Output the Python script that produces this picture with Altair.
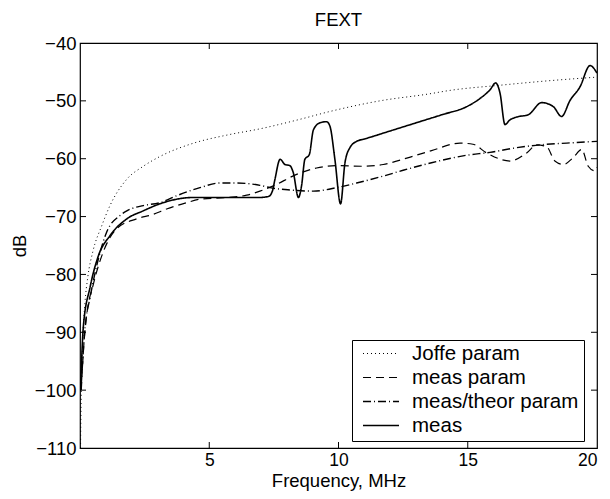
import altair as alt
import pandas as pd

FONT = "Liberation Sans"

series_names = ["Joffe param", "meas param", "meas/theor param", "meas"]

joffe_x = [0.02, 0.05, 0.1, 0.19, 0.3, 0.5, 0.84, 1.16, 1.8, 2.45, 3.1, 4.4, 5.7, 7.0, 8.5, 9.7, 11.6, 13.5, 14.3, 16.25, 18.2, 20]
joffe_y = [-110, -100, -92, -85, -80.5, -76, -71.6, -68.1, -63.6, -61.3, -59.6, -57.3, -55.9, -54.8, -53.2, -51.8, -50.0, -48.8, -48.2, -47.3, -46.5, -45.9]

measp_x = [0.05, 0.15, 0.26, 0.51, 0.9, 1.42, 2.19, 2.84, 3.35, 4.13, 4.64, 5.67, 6.45, 6.96, 7.48, 8.38, 9.15, 9.93, 10.96, 11.73, 12.64, 13.6, 14.7, 15.2, 15.73, 16.63, 17.28, 17.67, 18.05, 18.37, 18.7, 19.08, 19.41, 19.66, 19.92, 20]
measp_y = [-100, -92, -87, -81.8, -76.1, -72.1, -70.4, -69.6, -68.7, -67.6, -67.0, -66.7, -66.3, -65.6, -64.7, -62.7, -61.6, -61.2, -61.3, -61.0, -59.9, -58.6, -57.3, -57.5, -59.0, -60.4, -59.0, -57.6, -57.9, -60.4, -61.0, -59.8, -58.4, -61.3, -62.1, -61.5]

theor_x = [0.05, 0.2, 0.39, 0.7, 1.03, 1.55, 1.81, 2.45, 3.09, 3.74, 4.64, 5.42, 6.06, 6.96, 7.35, 8.12, 9.03, 9.93, 10.7, 11.73, 12.5, 13.6, 14.96, 15.86, 16.89, 17.8, 18.83, 20]
theor_y = [-99, -89, -84, -77.5, -72.7, -69.8, -69.0, -68.1, -67.6, -66.4, -65.0, -64.2, -64.2, -64.6, -65.0, -65.4, -65.6, -65.0, -64.2, -63.0, -62.0, -60.7, -59.4, -58.9, -58.1, -57.6, -57.3, -57.0]

meas_x = [0.02, 0.13, 0.39, 0.71, 1.16, 1.81, 2.45, 3.09, 3.74, 4.38, 5.5, 6.96, 7.3, 7.45, 7.54, 7.74, 7.93, 8.12, 8.25, 8.45, 8.57, 8.7, 8.87, 9.03, 9.28, 9.54, 9.67, 9.86, 10.08, 10.25, 10.44, 10.7, 11, 12, 13, 14, 14.96, 15.47, 15.86, 16.08, 16.25, 16.44, 16.63, 16.89, 17.34, 17.86, 18.31, 18.63, 18.96, 19.34, 19.73, 20]
meas_y = [-100, -89, -82.2, -76.8, -73.3, -70.4, -69.0, -67.8, -67.0, -66.7, -66.7, -66.7, -66.5, -65.5, -63.6, -60.1, -61.0, -61.2, -62.4, -66.7, -64.7, -60.1, -59.3, -55.0, -53.8, -53.6, -54.4, -60.1, -67.8, -60.7, -58.1, -57.0, -56.6, -55.2, -53.8, -52.4, -51.0, -49.6, -48.1, -46.9, -48.7, -54.1, -53.3, -52.8, -52.4, -50.3, -51.0, -52.7, -49.9, -47.6, -43.9, -45.2]

x_ticks = [5, 10, 15, 20]
x_inner_ticks = [5, 10, 15]
y_ticks = [-110, -100, -90, -80, -70, -60, -50, -40]
y_inner_ticks = [-100, -90, -80, -70, -60, -50]

rows = []
for name, xs, ys in [
    ("Joffe param", joffe_x, joffe_y),
    ("meas param", measp_x, measp_y),
    ("meas/theor param", theor_x, theor_y),
    ("meas", meas_x, meas_y),
]:
    for i, (a, b) in enumerate(zip(xs, ys)):
        rows.append({"series": name, "f": a, "dB": b, "order": i})
df = pd.DataFrame(rows)

W, H = 517, 405
FS = 18.5

xscale = alt.Scale(domain=[0, 20], nice=False, zero=False)
yscale = alt.Scale(domain=[-110, -40], nice=False, zero=False)

axis_style = dict(grid=False, tickSize=0, domain=False,
                  labelFont=FONT, titleFont=FONT, titleFontSize=FS,
                  labelColor="black", titleColor="black", titleFontWeight="normal")

lines = alt.Chart(df).mark_line(clip=True, color="black", interpolate="monotone").encode(
    x=alt.X("f:Q", scale=xscale,
            axis=alt.Axis(title="Frequency, MHz", values=x_ticks, labelPadding=3, labelFontSize=17.5,
                          titleY=38, titleBaseline="alphabetic",
                          **axis_style)),
    y=alt.Y("dB:Q", scale=yscale,
            axis=alt.Axis(title="dB", values=y_ticks, labelPadding=4, titlePadding=5, labelFontSize=FS,
                          **axis_style)),
    strokeDash=alt.StrokeDash("series:N",
        scale=alt.Scale(domain=series_names, range=[[1, 3], [8, 5], [8, 3, 1, 3], [1, 0]]),
        legend=alt.Legend(title=None, orient="none", legendX=272, legendY=297,
                          symbolType="stroke", symbolSize=1296, symbolStrokeColor="black",
                          symbolStrokeWidth=1.5, labelFontSize=20.5, labelFont=FONT,
                          labelColor="black", strokeColor="black", fillColor="white",
                          padding=5, rowPadding=3, clipHeight=17, symbolOffset=5,
                          labelOffset=12, labelLimit=300)),
    strokeWidth=alt.StrokeWidth("series:N",
        scale=alt.Scale(domain=series_names, range=[1.0, 1.6, 1.3, 1.8]), legend=None),
    order="order:Q",
)

xt = pd.DataFrame({"f": x_inner_ticks})
yt = pd.DataFrame({"dB": y_inner_ticks})

xb = alt.Chart(xt).mark_rule(color="black", strokeWidth=1).encode(
    x=alt.X("f:Q", scale=xscale), y=alt.value(H), y2=alt.value(H - 6))
xtop = alt.Chart(xt).mark_rule(color="black", strokeWidth=1).encode(
    x=alt.X("f:Q", scale=xscale), y=alt.value(0), y2=alt.value(6))
yl = alt.Chart(yt).mark_rule(color="black", strokeWidth=1).encode(
    y=alt.Y("dB:Q", scale=yscale), x=alt.value(0), x2=alt.value(6))
yr = alt.Chart(yt).mark_rule(color="black", strokeWidth=1).encode(
    y=alt.Y("dB:Q", scale=yscale), x=alt.value(W), x2=alt.value(W - 6))

chart = alt.layer(lines, xb, xtop, yl, yr).properties(
    width=W, height=H,
    background="white",
    title=alt.TitleParams("FEXT", fontSize=FS, fontWeight="normal", font=FONT, color="black", offset=5),
    autosize=alt.AutoSizeParams(type="none"),
    padding={"left": 72, "top": 35, "right": 5, "bottom": 43},
).configure_view(stroke="black", strokeWidth=1.2)

chart.save("out.html", embed_options={"renderer": "svg", "actions": False})
